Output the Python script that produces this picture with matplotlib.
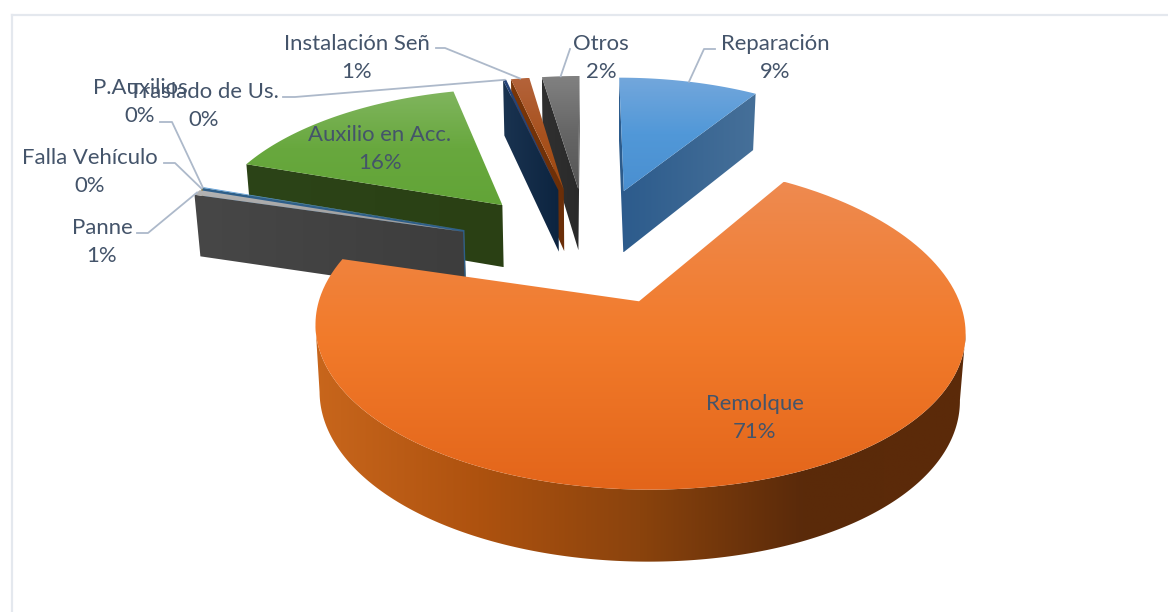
import numpy as np
import matplotlib
matplotlib.use("Agg")
import matplotlib.pyplot as plt
from matplotlib.path import Path
from matplotlib.patches import PathPatch
from matplotlib.colors import LinearSegmentedColormap

categories = ["Reparación", "Remolque", "Panne", "Falla Vehículo", "P.Auxilios",
              "Auxilio en Acc.", "Traslado de Us.", "Instalación Señ", "Otros"]
values = [9.1, 70.6, 0.6, 0.1, 0.1, 16.0, 0.2, 1.2, 2.45]

explosion = [0.45, 0.36, 0.44, 0.44, 0.44, 0.44, 0.45, 0.45, 0.45]
explosion_dx = [0, 0.032, 0, 0, 0, 0, 0, 0, 0]
top_colors = [("#73A7DC", "#5198D8", "#4A8FD0"), ("#EE8A50", "#F27B2B", "#E3651A"),
              ("#B4B4B4", "#A5A5A5", "#989898"), ("#FFC000", "#FFC000", "#FFC000"),
              ("#5B9BD5", "#5B9BD5", "#5B9BD5"), ("#80B55E", "#68A83E", "#62A437"),
              ("#264478", "#264478", "#264478"), ("#B4633A", "#A8521F", "#9E480E"),
              ("#818181", "#666666", "#555555")]
wall_colors = [("#2C5B8C", "#467099"), ("#C8661C", "#AE520F", "#8A430D", "#5A2A0A", "#5C2A09"),
               ("#474747", "#3D3D3D"), ("#7F6000", "#7F6000"), ("#2E5F8A", "#2E5F8A"),
               ("#2C4418", "#2A4014"), ("#1A3350", "#0C2440"), ("#7A3608", "#6A2E08"),
               ("#303030", "#2A2A2A")]
paint_order = [0, 8, 7, 6, 5, 3, 4, 2, 1]

CX, CY, AX, BY, PERSP_X, PERSP_Y = 588, 250, 303, 145, 0.16, 0.143
DEPTH = 64
INK = "#44546A"
LEADER = "#ADB9CA"

def project(x, y):
    return CX + AX * x / (1 - PERSP_X * y), CY + BY * y / (1 - PERSP_Y * y)

def drop(sx, sy, y):
    return CX + (sx - CX) * 0.985, sy + DEPTH + 6 * y

fractions = np.array(values) / sum(values) * 2 * np.pi
ends = np.cumsum(fractions)
starts = ends - fractions

fig = plt.figure(figsize=(11.68, 6.12), dpi=100, facecolor="white")
ax = fig.add_axes([0, 0, 1, 1])
ax.set_xlim(0, 1168)
ax.set_ylim(612, 0)
ax.axis("off")

def gradient(stops, vertical, bbox, path, z):
    cmap = LinearSegmentedColormap.from_list("g", stops)
    ramp = np.linspace(0, 1, 256)
    img = ramp[:, None] if vertical else ramp[None, :]
    x0, y0, x1, y1 = bbox
    im = ax.imshow(img, cmap=cmap, vmin=0, vmax=1, aspect="auto",
                   extent=(x0, x1, y1, y0), origin="upper", zorder=z, interpolation="bilinear")
    im.set_clip_path(PathPatch(path, transform=ax.transData))

rim_mid = {}
for z, i in enumerate(paint_order):
    mid = (starts[i] + ends[i]) / 2
    ox = explosion[i] * np.sin(mid) + explosion_dx[i]
    oy = -explosion[i] * np.cos(mid)
    n = max(3, int(fractions[i] * 90))
    th = np.linspace(starts[i], ends[i], n)
    xs = np.r_[ox, ox + np.sin(th), ox]
    ys = np.r_[oy, oy - np.cos(th), oy]
    sx, sy = project(xs, ys)
    bx, by = drop(sx, sy, ys)
    rim_mid[i] = project(ox + np.sin(mid), oy - np.cos(mid))

    verts, codes = [], []
    for k in range(len(sx) - 1):
        if sx[k + 1] < sx[k]:
            verts += [(sx[k], sy[k]), (sx[k + 1], sy[k + 1]), (bx[k + 1], by[k + 1]), (bx[k], by[k]), (sx[k], sy[k])]
            codes += [Path.MOVETO, Path.LINETO, Path.LINETO, Path.LINETO, Path.CLOSEPOLY]
    if verts:
        v = np.array(verts)
        box = (v[:, 0].min(), v[:, 1].min(), v[:, 0].max(), v[:, 1].max())
        gradient(wall_colors[i], False, box, Path(v, codes), 10 + z * 2)
    top = Path(np.c_[sx, sy])
    box = (sx.min(), sy.min(), sx.max(), sy.max())
    gradient(top_colors[i], True, box, top, 11 + z * 2)

ax.plot([12, 12], [612, 15], color="#E4E8EE", lw=1.6, zorder=1)
ax.plot([12, 1168], [15, 15], color="#E4E8EE", lw=1.6, zorder=1)

label_pos = {0: (775, 58), 1: (755, 418), 2: (102, 242), 3: (90, 172), 4: (140, 102),
             5: (380, 149), 6: (204, 106), 7: (357, 58), 8: (601, 58)}
elbows = {0: [(715, 49), (704, 49)], 2: [(137, 233), (148, 233)], 3: [(164, 163), (175, 163)],
          4: [(160, 122), (172, 122)], 6: [(283, 97), (295, 97)], 7: [(436, 48), (445, 48)],
          8: [(570, 49)]}
for i, pts in elbows.items():
    p = pts + [rim_mid[i]]
    ax.plot([q[0] for q in p], [q[1] for q in p], color=LEADER, lw=1.3, zorder=40)
for i, (x, y) in label_pos.items():
    ax.text(x, y, f"{categories[i]}\n{round(values[i])}%", ha="center", va="center",
            color=INK, fontsize=15.9, family="Lato", linespacing=1.48, zorder=50)

fig.savefig("out.png", dpi=100, facecolor="white")
